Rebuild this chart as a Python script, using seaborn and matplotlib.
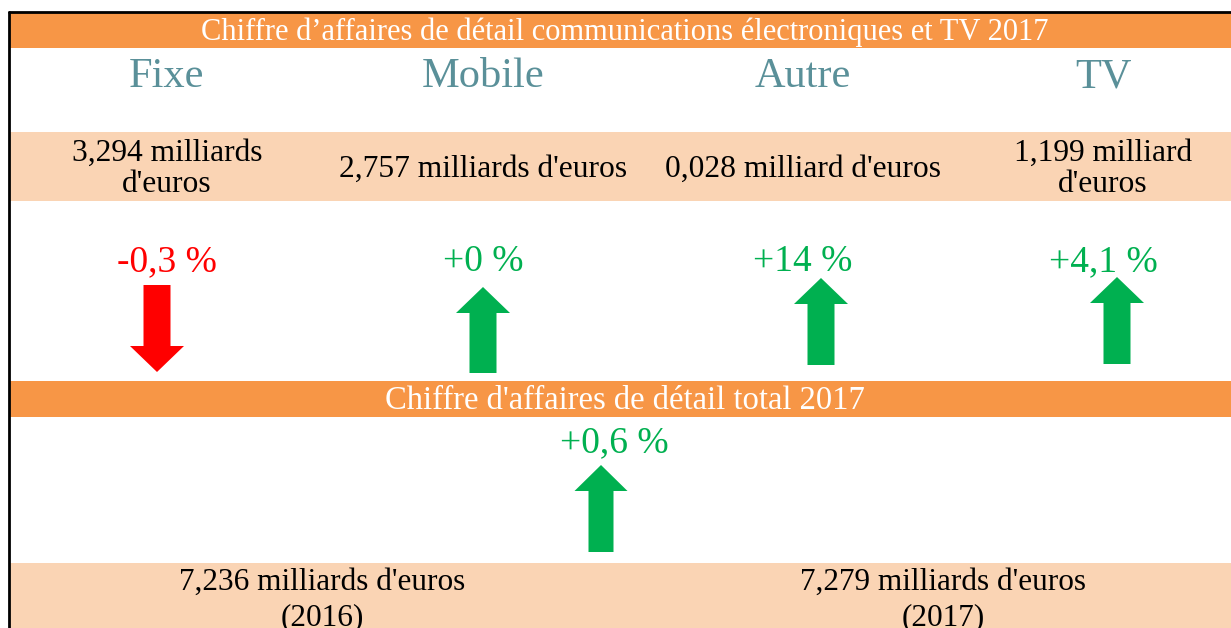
import matplotlib
matplotlib.use("Agg")
import matplotlib.pyplot as plt
import seaborn as sns
from matplotlib.patches import Rectangle, FancyArrow

sns.set_theme(style="white")
plt.rcParams['font.family'] = ['Liberation Serif', 'DejaVu Serif']

# Données
titre = "Chiffre d\u2019affaires de détail communications électroniques et TV 2017"
titre_total = "Chiffre d'affaires de détail total 2017"
categories = ["Fixe", "Mobile", "Autre", "TV"]
montants = ["3,294 milliards\nd'euros", "2,757 milliards d'euros",
            "0,028 milliard d'euros", "1,199 milliard\nd'euros"]
evolutions = [-0.3, 0.0, 14, 4.1]
evolution_totale = 0.6
totaux = ["7,236 milliards d'euros\n(2016)", "7,279 milliards d'euros\n(2017)"]

ORANGE = "#F79646"
PECHE = "#FAD4B4"
TEAL = "#5A9099"
VERT = "#00B050"
ROUGE = "#FF0000"


def fmt(v):
    return f"{v:+g}".replace(".", ",") + " %"


def fleche(ax, x, y_haut, y_bas, v, larg=27, tete=54, long_tete=26):
    couleur = VERT if v >= 0 else ROUGE
    if v >= 0:
        y0, dy = y_bas, -(y_bas - y_haut)
    else:
        y0, dy = y_haut, (y_bas - y_haut)
    ax.add_patch(FancyArrow(x, y0, 0, dy, width=larg, head_width=tete,
                            head_length=long_tete, length_includes_head=True,
                            color=couleur, lw=0))


fig = plt.figure(figsize=(12.31, 6.28), dpi=100)
ax = fig.add_axes([0, 0, 1, 1])
ax.set_xlim(0, 1231)
ax.set_ylim(628, 0)
ax.axis("off")

# bandeaux
ax.add_patch(Rectangle((10, 13), 1221, 35, color=ORANGE, lw=0))
ax.add_patch(Rectangle((10, 132), 1221, 69, color=PECHE, lw=0))
ax.add_patch(Rectangle((10, 381), 1221, 36, color=ORANGE, lw=0))
ax.add_patch(Rectangle((10, 563), 1221, 70, color=PECHE, lw=0))
# cadre
ax.plot([9, 9], [12, 628], color="black", lw=2)
ax.plot([9, 1231], [12, 12], color="black", lw=2)

ax.text(625, 32, titre, color="white", fontsize=22, ha="center", va="center")
ax.text(625, 401, titre_total, color="white", fontsize=23.5, ha="center", va="center")

col_x = [167, 483, 803, 1103]
fleche_x = [157, 483, 821, 1117]
fleche_y = [(285, 372), (287, 373), (278, 365), (277, 364)]

for i, cat in enumerate(categories):
    ax.text(col_x[i], 77, cat, color=TEAL, fontsize=30.5, ha="center", va="center")
    ax.text(col_x[i], 169, montants[i], color="black", fontsize=22.7,
            ha="center", va="center", linespacing=1.1)
    v = evolutions[i]
    ax.text(col_x[i], 262, fmt(v), color=VERT if v >= 0 else ROUGE,
            fontsize=27, ha="center", va="center")
    fleche(ax, fleche_x[i], fleche_y[i][0], fleche_y[i][1], v)

ax.text(614, 443, fmt(evolution_totale), color=VERT, fontsize=27,
        ha="center", va="center")
fleche(ax, 601, 465, 552, evolution_totale, larg=25, tete=53)

for x, t in zip([322, 943], totaux):
    ax.text(x, 600, t, color="black", fontsize=22.5, ha="center", va="center",
            linespacing=1.3)

fig.savefig("out.png", dpi=100)
